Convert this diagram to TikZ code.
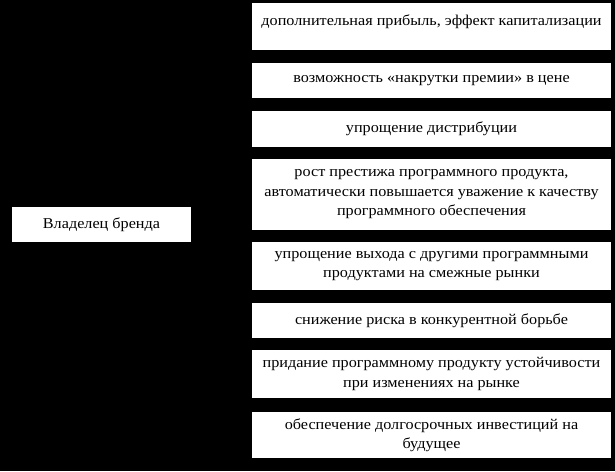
\documentclass[tikz,border=0pt]{standalone}
\usepackage{fontspec}
\setmainfont{Liberation Serif}[FakeStretch=1.08]
\usetikzlibrary{arrows}
\tikzstyle{line} = [draw=black, -latex']
\tikzstyle{item} = [fill=white, align=center, inner sep=0pt, minimum width=359pt,
   font=\fontsize{15}{19.5}\selectfont]

\begin{document}
\begin{tikzpicture}[x=1pt,y=-1pt]

\fill[black] (0,0) rectangle (615,471);

\node[item, minimum width=179pt, minimum height=35pt] (owner) at (101.5,224.5) {Владелец бренда};

\node[item, minimum height=47pt] (b1) at (431.5,26.5) {дополнительная прибыль, эффект капитализации\\[-6.5pt] };
\node[item, minimum height=35pt] (b2) at (431.5,80.5) {возможность «накрутки премии» в цене};
\node[item, minimum height=36pt] (b3) at (431.5,129) {упрощение дистрибуции};
\node[item, minimum height=71pt] (b4) at (431.5,194.5) {рост престижа программного продукта,\\ автоматически повышается уважение к качеству\\ программного обеспечения};
\node[item, minimum height=48pt] (b5) at (431.5,266) {упрощение выхода с другими программными\\ продуктами на смежные рынки};
\node[item, minimum height=35pt] (b6) at (431.5,320.5) {снижение риска в конкурентной борьбе};
\node[item, minimum height=48pt] (b7) at (431.5,374) {придание программному продукту устойчивости\\ при изменениях на рынке};
\node[item, minimum height=46pt] (b8) at (431.5,435) {обеспечение долгосрочных инвестиций на\\ будущее};

\foreach \b in {b1,b2,b3,b4,b5,b6,b7,b8} {
	\draw[line] (owner.east) -- ++(30,0) |- (\b.west);
}
\end{tikzpicture}
\end{document}
